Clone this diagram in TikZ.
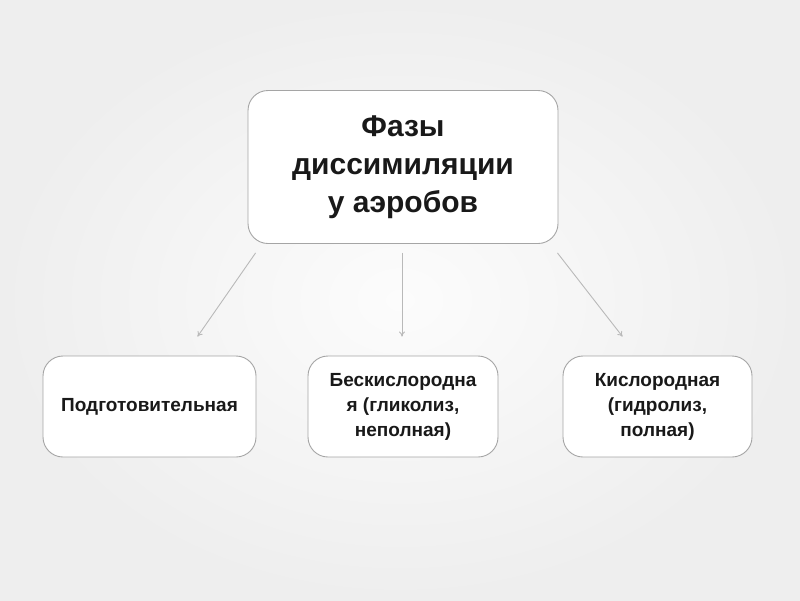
\documentclass[tikz,border=0pt]{standalone}
\usepackage{fontspec}
\setmainfont{Liberation Sans}
\usepackage{tikz}
\usetikzlibrary{arrows.meta}
\definecolor{boxgray}{RGB}{165, 165, 165}
\definecolor{arrowgray}{RGB}{185, 185, 185}
\definecolor{textdark}{RGB}{25, 25, 25}
\definecolor{bgcenter}{RGB}{252, 252, 252}
\definecolor{bggray}{RGB}{238, 238, 238}

\tikzset{
  phasebox/.style={
    draw=boxgray,
    line width=0.9pt,
    fill=white,
    rounded corners=20pt,
    inner sep=0pt,
    align=center,
    text=textdark,
    font=\fontsize{19}{25}\selectfont\bfseries
  },
  phasearrow/.style={
    draw=arrowgray,
    line width=0.9pt,
    -{To[length=5pt,width=6pt]}
  }
}

\begin{document}
\begin{tikzpicture}[x=1pt, y=-1pt]
  % background
  \shade[inner color=bgcenter, outer color=bggray] (0,0) rectangle (800,600);
  \useasboundingbox (0,0) rectangle (800,600);

  \node[
    phasebox,
    minimum width=310pt,
    minimum height=153pt,
    font=\fontsize{30}{38}\selectfont\bfseries
  ] (phases) at (403,167) {Фазы\\диссимиляции\\у аэробов};

  \node[phasebox, minimum width=213pt, minimum height=101pt]
    (prep) at (149.5,406.5) {Подготовительная};
  \node[phasebox, minimum width=190pt, minimum height=101pt]
    (anaer) at (403,406.5) {Бескислородна\\я (гликолиз,\\неполная)};
  \node[phasebox, minimum width=189pt, minimum height=101pt]
    (aer) at (657.5,406.5) {Кислородная\\(гидролиз,\\полная)};

  \draw[phasearrow] ([xshift=8pt,yshift=-9pt]phases.south west)
    -- ([xshift=48pt,yshift=19pt]prep.north);
  \draw[phasearrow] ([xshift=-1pt,yshift=-9pt]phases.south)
    -- ([xshift=-1pt,yshift=19pt]anaer.north);
  \draw[phasearrow] ([xshift=-1pt,yshift=-9pt]phases.south east)
    -- ([xshift=-35pt,yshift=19pt]aer.north);
\end{tikzpicture}
\end{document}
